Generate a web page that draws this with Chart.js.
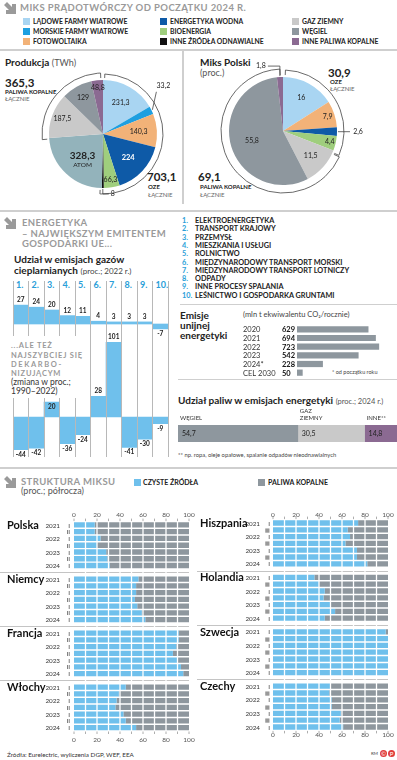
<!DOCTYPE html>
<html lang="pl">
<head>
<meta charset="utf-8">
<title>Miks prądotwórczy</title>
<script src="https://cdn.jsdelivr.net/npm/chart.js@4.4.1/dist/chart.umd.min.js"></script>
<style>
  html, body { margin: 0; padding: 0; background: #fff; }
  body { width: 397px; height: 760px; position: relative; overflow: hidden;
         font-family: Lato, "Noto Sans", sans-serif; color: #222; }
  .t { position: absolute; white-space: nowrap; line-height: 1; }
  .hd { color: #9a9a9a; font-weight: 700; letter-spacing: .4px; }
  .sw { position: absolute; width: 7px; height: 7px; }
  .hr { position: absolute; background: #cfcfcf; }
  .col { position: absolute; width: 1px; background: #b8b8b8; z-index: 2; }
  canvas { position: absolute; }
  svg.ar { position: absolute; width: 13px; height: 13px; }
</style>
</head>
<body>

<!-- MIKS PRĄDOTWÓRCZY -->
<svg class="ar" style="left:4px;top:2px" viewBox="0 0 13 13"><path d="M0 3 L3 0 L8 5 L8 2 L12 2 L12 12 L2 12 L2 8 L5 8 Z" fill="#9a9a9a"/></svg>
<div class="t hd" style="left:20px;top:3px;font-size:9.5px">MIKS PRĄDOTWÓRCZY OD POCZĄTKU 2024 R.</div>
<div id="legend"></div>
<div class="hr" style="left:0;top:49px;width:397px;height:2px"></div>
<div class="hr" style="left:182px;top:51px;width:1.5px;height:153px"></div>

<div class="t" style="left:5px;top:57px;font-size:10px"><b>Produkcja</b> <span style="color:#555;font-size:9px">(TWh)</span></div>
<div class="t" style="left:5px;top:77px;font-size:11.5px;font-weight:700">365,3</div>
<div class="t" style="left:5px;top:89px;font-size:6px;font-weight:700">PALIWA KOPALNE</div>
<div class="t" style="left:5px;top:96px;font-size:6px;color:#666">ŁĄCZNIE</div>
<div class="t" style="left:147px;top:171px;font-size:11.5px;font-weight:700">703,1</div>
<div class="t" style="left:148px;top:184px;font-size:6px;font-weight:700">OZE</div>
<div class="t" style="left:148px;top:192px;font-size:6px;color:#666">ŁĄCZNIE</div>

<div class="t" style="left:200px;top:57px;font-size:10px;font-weight:700">Miks Polski</div>
<div class="t" style="left:200px;top:68px;font-size:9px;color:#555">(proc.)</div>
<div class="t" style="left:328px;top:67px;font-size:11.5px;font-weight:700">30,9</div>
<div class="t" style="left:330px;top:79px;font-size:6px;font-weight:700">OZE</div>
<div class="t" style="left:330px;top:86px;font-size:6px;color:#666">ŁĄCZNIE</div>
<div class="t" style="left:198px;top:171px;font-size:11.5px;font-weight:700">69,1</div>
<div class="t" style="left:200px;top:184px;font-size:6px;font-weight:700">PALIWA KOPALNE</div>
<div class="t" style="left:200px;top:192px;font-size:6px;color:#666">ŁĄCZNIE</div>

<div class="hr" style="left:0;top:210px;width:397px;height:2px"></div>

<!-- ENERGETYKA -->
<svg class="ar" style="left:4px;top:217px" viewBox="0 0 13 13"><path d="M0 3 L3 0 L8 5 L8 2 L12 2 L12 12 L2 12 L2 8 L5 8 Z" fill="#9a9a9a"/></svg>
<div class="t hd" style="left:22px;top:218px;font-size:9.5px">ENERGETYKA</div>
<div class="t hd" style="left:22px;top:229px;font-size:9.5px">– NAJWIĘKSZYM EMITENTEM</div>
<div class="t hd" style="left:22px;top:239px;font-size:9.5px">GOSPODARKI UE...</div>
<div class="t" style="left:14px;top:254px;font-size:10px;font-weight:700">Udział w emisjach gazów</div>
<div class="t" style="left:14px;top:265px;font-size:10px"><b>cieplarnianych</b> <span style="font-size:8px;color:#444">(proc.; 2022 r.)</span></div>
<div id="colnums"></div>
<div id="collines"></div>
<div style="position:absolute;left:5px;top:336px;width:82px;height:62px;background:#fff;z-index:3"></div>
<div class="t" style="left:11px;top:342px;font-size:7.5px;font-weight:700;color:#9a9a9a;letter-spacing:.8px;z-index:4">...ALE TEŻ</div>
<div class="t" style="left:11px;top:352px;font-size:7.5px;font-weight:700;color:#9a9a9a;letter-spacing:.8px;z-index:4">NAJSZYBCIEJ SIĘ</div>
<div class="t" style="left:11px;top:361px;font-size:7.5px;font-weight:700;color:#9a9a9a;letter-spacing:1.6px;z-index:4">DEKARBO-</div>
<div class="t" style="left:11px;top:370px;font-size:7.5px;font-weight:700;color:#9a9a9a;letter-spacing:.8px;z-index:4">NIZUJĄCYM</div>
<div class="t" style="left:11px;top:378px;font-size:8.5px;color:#333;z-index:4">(zmiana w proc.;</div>
<div class="t" style="left:11px;top:387px;font-size:8.5px;color:#333;z-index:4">1990–2022)</div>

<div id="sectorlist"></div>
<div class="hr" style="left:180px;top:304px;width:217px;height:1px"></div>
<div class="t" style="left:180px;top:310px;font-size:10px;font-weight:700">Emisje</div>
<div class="t" style="left:180px;top:320px;font-size:10px;font-weight:700">unijnej</div>
<div class="t" style="left:180px;top:330px;font-size:10px;font-weight:700">energetyki</div>
<div class="t" style="left:243px;top:311px;font-size:7.5px;color:#444">(mln t ekwiwalentu CO₂/rocznie)</div>
<div class="t" style="left:332px;top:370px;font-size:5.5px;color:#444">* od początku roku</div>

<div class="hr" style="left:178px;top:379px;width:219px;height:1px"></div>
<div class="t" style="left:178px;top:395px;font-size:10px"><b>Udział paliw w emisjach energetyki</b> <span style="font-size:7.5px;color:#555">(proc.; 2024 r.)</span></div>
<div class="t" style="left:178px;top:452px;font-size:5.8px;color:#444">** np. ropa, oleje opałowe, spalanie odpadów nieodnawialnych</div>

<div class="hr" style="left:0;top:467px;width:397px;height:2px"></div>

<!-- STRUKTURA MIKSU -->
<svg class="ar" style="left:4px;top:476px" viewBox="0 0 13 13"><path d="M0 3 L3 0 L8 5 L8 2 L12 2 L12 12 L2 12 L2 8 L5 8 Z" fill="#9a9a9a"/></svg>
<div class="t hd" style="left:21px;top:477px;font-size:9.5px">STRUKTURA MIKSU</div>
<div class="t" style="left:21px;top:486px;font-size:9px;color:#555">(proc.; półrocza)</div>
<div class="sw" style="left:134px;top:479px;background:#6fc0ec"></div>
<div class="t" style="left:143px;top:479px;font-size:7px;font-weight:700">CZYSTE ŹRÓDŁA</div>
<div class="sw" style="left:258px;top:479px;background:#8e979e"></div>
<div class="t" style="left:268px;top:479px;font-size:7px;font-weight:700">PALIWA KOPALNE</div>

<div class="t" style="left:7px;top:752px;font-size:6.3px;color:#333">Źródła: Eurelectric, wyliczenia DGP, WEF, EEA</div>
<div class="t" style="left:371px;top:752px;font-size:4.5px;color:#444">RM</div>
<div class="t" style="left:380px;top:750px;font-size:6px;color:#fff;background:#e03a3a;border-radius:50%;width:7px;height:7px;text-align:center;line-height:7px">©</div>
<div class="t" style="left:388px;top:750px;font-size:6px;color:#fff;background:#e03a3a;border-radius:50%;width:7px;height:7px;text-align:center;line-height:7px">P</div>

<script>
// ---------- data ----------
const sources = ['LĄDOWE FARMY WIATROWE', 'MORSKIE FARMY WIATROWE', 'FOTOWOLTAIKA',
                 'ENERGETYKA WODNA', 'BIOENERGIA', 'INNE ŹRÓDŁA ODNAWIALNE',
                 'GAZ ZIEMNY', 'WĘGIEL', 'INNE PALIWA KOPALNE'];
const sourceColors = ['#a9d5f2', '#1e9fe0', '#f2b278', '#0e5aa7', '#9fce7d', '#111111',
                      '#c9c9c9', '#8e979e', '#8b6a92'];

const prodLabels = ['Lądowe farmy wiatrowe', 'Morskie farmy wiatrowe', 'Fotowoltaika', 'Energetyka wodna',
                    'Bioenergia', 'Inne źródła odnawialne', 'Atom', 'Gaz ziemny', 'Węgiel', 'Inne paliwa kopalne'];
const prodTWh = [231.3, 33.2, 140.3, 224, 66.3, 8, 328.3, 187.5, 129, 48.8];
const prodColors = ['#a9d5f2', '#1e9fe0', '#f2b278', '#0e5aa7', '#9fce7d', '#111111',
                    '#93b3bb', '#c9c9c9', '#8e979e', '#8b6a92'];

const plLabels = ['Lądowe farmy wiatrowe', 'Fotowoltaika', 'Energetyka wodna', 'Bioenergia',
                  'Gaz ziemny', 'Węgiel', 'Inne paliwa kopalne'];
const plShare = [16, 7.9, 2.6, 4.4, 11.5, 55.8, 1.8];
const plColors = ['#a9d5f2', '#f2b278', '#0e5aa7', '#9fce7d', '#c9c9c9', '#8e979e', '#8b6a92'];

const sectors = ['ELEKTROENERGETYKA', 'TRANSPORT KRAJOWY', 'PRZEMYSŁ', 'MIESZKANIA I USŁUGI',
                 'ROLNICTWO', 'MIĘDZYNARODOWY TRANSPORT MORSKI', 'MIĘDZYNARODOWY TRANSPORT LOTNICZY',
                 'ODPADY', 'INNE PROCESY SPALANIA', 'LEŚNICTWO I GOSPODARKA GRUNTAMI'];
const ghgShare2022 = [27, 24, 20, 12, 11, 4, 3, 3, 3, -7];
const ghgChange = [-44, -42, 20, -36, -24, 28, 101, -41, -30, -9];

const emisYears = ['2020', '2021', '2022', '2023', '2024*', 'CEL 2030'];
const emisMt = [629, 694, 723, 542, 228, 50];

const fuels = ['WĘGIEL', 'GAZ ZIEMNY', 'INNE**'];
const fuelShare = [54.7, 30.5, 14.8];
const fuelColors = ['#8e979e', '#c9c9c9', '#8b6a92'];

const halfYears = ['2021 I', '2021 II', '2022 I', '2022 II', '2023 I', '2023 II', '2024 I'];
const mixTicks = [0, 20, 40, 60, 80, 100];
const countriesLeft = ['Polska', 'Niemcy', 'Francja', 'Włochy'];
const countriesRight = ['Hiszpania', 'Holandia', 'Szwecja', 'Czechy'];
const cleanPolska = [18, 18, 23, 20, 28, 29, 31];
const cleanNiemcy = [56, 54, 54, 53, 55, 59, 62];
const cleanFrancja = [91, 91, 89, 86, 90, 93, 95];
const cleanWlochy = [45, 39, 37, 36, 43, 45, 54];
const cleanHiszpania = [74, 65, 67, 63, 73, 73, 82];
const cleanHolandia = [36, 40, 45, 44, 50, 54, 45];
const cleanSzwecja = [98, 100, 100, 100, 100, 100, 100];
const cleanCzechy = [50, 49, 51, 51, 59, 58, 61];

// ---------- setup ----------
const FONT = 'Lato, "Noto Sans", sans-serif';
Chart.defaults.font.family = FONT;
Chart.defaults.animation = false;
Chart.defaults.events = [];
Chart.defaults.plugins.legend.display = false;
Chart.defaults.plugins.tooltip.enabled = false;

const fmt = v => String(v).replace('.', ',');
const BLUE = '#6fc0ec';
const NUMBLUE = '#2a9ed8';

function makeCanvas(x, y, w, h) {
  const c = document.createElement('canvas');
  c.width = w; c.height = h;
  c.style.left = x + 'px'; c.style.top = y + 'px';
  c.style.width = w + 'px'; c.style.height = h + 'px';
  document.body.appendChild(c);
  return c.getContext('2d');
}

function addText(parent, x, y, txt, style) {
  const d = document.createElement('div');
  d.className = 't';
  d.style.left = x + 'px'; d.style.top = y + 'px';
  Object.assign(d.style, style || {});
  d.textContent = txt;
  parent.appendChild(d);
}

// legend of the top section
const legendBox = document.getElementById('legend');
const legendCols = [23, 160, 292], legendRows = [17, 27, 37];
sources.forEach((s, i) => {
  const x = legendCols[Math.floor(i / 3)], y = legendRows[i % 3];
  const sw = document.createElement('div');
  sw.className = 'sw';
  sw.style.left = x + 'px'; sw.style.top = (y + 0.5) + 'px';
  sw.style.background = sourceColors[i];
  legendBox.appendChild(sw);
  addText(legendBox, x + 10, y + 0.5, s, { fontSize: '6.8px', fontWeight: 700 });
});

// ---------- pies ----------
const pieDecor = {
  id: 'pieDecor',
  afterDatasetsDraw(chart, args, o) {
    const ctx = chart.ctx;
    const arcs = chart.getDatasetMeta(0).data;
    const vals = chart.data.datasets[0].data;
    const cx = arcs[0].x, cy = arcs[0].y, r0 = arcs[0].outerRadius;
    ctx.save();
    ctx.strokeStyle = '#444';
    ctx.lineWidth = 0.8;
    o.brackets.forEach(b => {
      const a0 = arcs[b.from].startAngle + b.pad0;
      const a1 = arcs[b.to].endAngle - b.pad1;
      const R = r0 + b.gap;
      ctx.beginPath();
      ctx.moveTo(cx + Math.cos(a0) * (r0 + 2), cy + Math.sin(a0) * (r0 + 2));
      ctx.arc(cx, cy, R, a0, a1);
      ctx.lineTo(cx + Math.cos(a1) * (r0 + 2), cy + Math.sin(a1) * (r0 + 2));
      ctx.stroke();
    });
    ctx.textAlign = 'center';
    ctx.textBaseline = 'middle';
    arcs.forEach((arc, i) => {
      const s = o.spots[i] || {};
      const mid = (arc.startAngle + arc.endAngle) / 2;
      let x, y;
      if (s.lead) {
        const ex = cx + Math.cos(mid) * (r0 + 1), ey = cy + Math.sin(mid) * (r0 + 1);
        ctx.beginPath();
        ctx.moveTo(ex, ey);
        s.lead.forEach(p => ctx.lineTo(ex + p[0], ey + p[1]));
        ctx.stroke();
        x = ex + s.at[0]; y = ey + s.at[1];
      } else {
        const r = r0 * (s.r || 0.65);
        x = cx + Math.cos(mid) * r; y = cy + Math.sin(mid) * r;
      }
      ctx.fillStyle = s.color || '#222';
      ctx.font = s.font || '7px ' + FONT;
      ctx.fillText(fmt(vals[i]), x, y);
      if (s.sub) {
        ctx.font = '6.5px ' + FONT;
        ctx.fillText(s.sub, x, y + 9);
      }
    });
    ctx.restore();
  }
};

function pieChart(ctx, labels, values, colors, pad, decor) {
  return new Chart(ctx, {
    type: 'pie',
    data: { labels: labels, datasets: [{ data: values, backgroundColor: colors, borderWidth: 0 }] },
    options: {
      responsive: false,
      layout: { padding: pad },
      plugins: { pieDecor: decor }
    },
    plugins: [pieDecor]
  });
}

pieChart(makeCanvas(28, 59, 150, 150), prodLabels, prodTWh, prodColors, 21, {
  brackets: [
    { from: 0, to: 5, pad0: 0.03, pad1: -0.03, gap: 6 },
    { from: 7, to: 9, pad0: -0.02, pad1: 0.04, gap: 7 }
  ],
  spots: [
    { r: 0.66 },
    { lead: [[4, -18]], at: [11, -24] },
    { r: 0.66 },
    { r: 0.64, color: '#fff', font: 'bold 7.5px ' + FONT },
    { r: 0.85 },
    { lead: [[0, 5], [6, 5]], at: [10, 5] },
    { r: 0.55, font: 'bold 10px ' + FONT, sub: 'ATOM' },
    { r: 0.8 },
    { r: 0.76 },
    { r: 0.87 }
  ]
});

pieChart(makeCanvas(208, 56, 170, 150), plLabels, plShare, plColors,
  { left: 21, right: 41, top: 21, bottom: 21 }, {
  brackets: [
    { from: 0, to: 3, pad0: 0.04, pad1: -0.04, gap: 7 },
    { from: 4, to: 6, pad0: 0.06, pad1: 0.05, gap: 8 }
  ],
  spots: [
    { r: 0.7 },
    { r: 0.87 },
    { lead: [[12, 0]], at: [20, 0] },
    { r: 0.89 },
    { r: 0.69 },
    { r: 0.6 },
    { lead: [[0, -10], [-12, -10]], at: [-19, -10] }
  ]
});

// ---------- sector columns ----------
const colLeft = 13, colW = 15.5;
const colLines = document.getElementById('collines');
for (let k = 0; k <= sectors.length; k++) {
  const d = document.createElement('div');
  d.className = 'col';
  d.style.left = (colLeft + k * colW - 0.5) + 'px';
  d.style.top = '281px';
  d.style.height = '176px';
  colLines.appendChild(d);
}
const colNums = document.getElementById('colnums');
sectors.forEach((s, i) => {
  addText(colNums, colLeft + i * colW + 3, 280, (i + 1) + '.',
    { fontSize: '9px', fontWeight: 700, color: NUMBLUE });
});
const list = document.getElementById('sectorlist');
sectors.forEach((s, i) => {
  const y = 217 + i * 8.3;
  addText(list, 182, y, (i + 1) + '.', { fontSize: '7.3px', fontWeight: 700, color: NUMBLUE });
  addText(list, 195, y, s, { fontSize: '7.3px', fontWeight: 700, color: '#222' });
});

const colLabels = {
  id: 'colLabels',
  afterDatasetsDraw(chart, args, o) {
    const ctx = chart.ctx;
    const bars = chart.getDatasetMeta(0).data;
    const vals = chart.data.datasets[0].data;
    ctx.save();
    ctx.font = 'bold 6.5px ' + FONT;
    ctx.fillStyle = '#222';
    ctx.textAlign = 'center';
    ctx.textBaseline = 'middle';
    bars.forEach((b, i) => {
      const v = vals[i];
      let y;
      if (v >= 0) y = (o.inside || []).includes(i) ? b.y + 4.5 : b.y - 5;
      else y = b.y + 5;
      ctx.fillText(String(v), b.x, y);
    });
    ctx.restore();
  }
};

function columnChart(ctx, values, min, max, pad, opts) {
  return new Chart(ctx, {
    type: 'bar',
    data: { labels: sectors, datasets: [{ data: values, backgroundColor: BLUE,
            barPercentage: 1, categoryPercentage: 1, borderWidth: 0 }] },
    options: {
      responsive: false,
      layout: { padding: pad },
      scales: { x: { display: false }, y: { display: false, min: min, max: max } },
      plugins: { colLabels: opts }
    },
    plugins: [colLabels]
  });
}

columnChart(makeCanvas(colLeft, 290, colW * 10, 50), ghgShare2022, -10, 30,
  { top: 13, bottom: 9, left: 0, right: 0 }, {});
columnChart(makeCanvas(colLeft, 330, colW * 10, 130), ghgChange, -50, 105,
  { top: 9.3, bottom: 6, left: 0, right: 0 }, { inside: [2] });

// ---------- EU power emissions ----------
const emisDecor = {
  id: 'emisDecor',
  afterDatasetsDraw(chart) {
    const ctx = chart.ctx;
    const bars = chart.getDatasetMeta(0).data;
    const vals = chart.data.datasets[0].data;
    ctx.save();
    ctx.textBaseline = 'middle';
    ctx.textAlign = 'left';
    bars.forEach((b, i) => {
      ctx.font = '7.5px ' + FONT;
      ctx.fillStyle = '#333';
      ctx.fillText(chart.data.labels[i], 3, b.y + 0.5);
      ctx.font = 'bold 7.5px ' + FONT;
      ctx.fillStyle = '#111';
      ctx.fillText(String(vals[i]), 42, b.y + 0.5);
    });
    ctx.restore();
  }
};
new Chart(makeCanvas(240, 325, 157, 52), {
  type: 'bar',
  data: { labels: emisYears, datasets: [{ data: emisMt, backgroundColor: '#8e979e',
          barPercentage: 0.72, categoryPercentage: 1, borderWidth: 0 }] },
  options: {
    indexAxis: 'y',
    responsive: false,
    layout: { padding: { left: 57, right: 0, top: 0, bottom: 0 } },
    scales: { x: { display: false, min: 0, max: 880 }, y: { display: false } }
  },
  plugins: [emisDecor]
});

// ---------- fuels in power emissions ----------
const fuelDecor = {
  id: 'fuelDecor',
  afterDatasetsDraw(chart) {
    const ctx = chart.ctx;
    const top = chart.chartArea.top;
    ctx.save();
    ctx.textAlign = 'left';
    chart.data.datasets.forEach((ds, i) => {
      const el = chart.getDatasetMeta(i).data[0];
      const x0 = Math.min(el.base, el.x);
      const parts = ds.label.split(' ');
      ctx.font = '6px ' + FONT;
      ctx.fillStyle = '#333';
      ctx.textBaseline = 'alphabetic';
      parts.slice().reverse().forEach((p, k) => ctx.fillText(p, x0 + 2, top - 5 - k * 7.5));
      ctx.font = '7px ' + FONT;
      ctx.fillStyle = '#222';
      ctx.textBaseline = 'middle';
      ctx.fillText(fmt(ds.data[0]), x0 + 4, el.y + 0.5);
    });
    ctx.restore();
  }
};
new Chart(makeCanvas(178, 405, 219, 40), {
  type: 'bar',
  data: {
    labels: ['2024'],
    datasets: fuels.map((f, i) => ({ label: f, data: [fuelShare[i]], backgroundColor: fuelColors[i],
      barPercentage: 1, categoryPercentage: 1, borderWidth: 0 }))
  },
  options: {
    indexAxis: 'y',
    responsive: false,
    layout: { padding: { left: 0, right: 0, top: 20, bottom: 3 } },
    scales: { x: { display: false, stacked: true, min: 0, max: 100 }, y: { display: false, stacked: true } }
  },
  plugins: [fuelDecor]
});

// ---------- mix structure ----------
const mixDecor = {
  id: 'mixDecor',
  beforeDatasetsDraw(chart, args, o) {
    const ctx = chart.ctx, ys = chart.scales.y, ca = chart.chartArea;
    ctx.save();
    ctx.strokeStyle = '#c4c4c4';
    ctx.lineWidth = 1;
    o.rows.forEach((r, i) => {
      if (r.gap) {
        const y = Math.round(ys.getPixelForValue(i)) + 0.5;
        ctx.beginPath(); ctx.moveTo(0, y); ctx.lineTo(ca.right, y); ctx.stroke();
      }
    });
    ctx.restore();
  },
  afterDatasetsDraw(chart, args, o) {
    const ctx = chart.ctx, xs = chart.scales.x, ys = chart.scales.y, ca = chart.chartArea;
    ctx.save();
    // white grid over the bars
    ctx.strokeStyle = '#fff';
    ctx.lineWidth = 1.3;
    for (let v = 10; v < 100; v += 10) {
      const x = xs.getPixelForValue(v);
      ctx.beginPath(); ctx.moveTo(x, ca.top); ctx.lineTo(x, ca.bottom); ctx.stroke();
    }
    // tick marks and labels at top and bottom
    ctx.strokeStyle = '#999';
    ctx.lineWidth = 0.8;
    for (let v = 0; v <= 100; v += 10) {
      const x = xs.getPixelForValue(v);
      ctx.beginPath(); ctx.moveTo(x, ca.top - 3); ctx.lineTo(x, ca.top - 0.5); ctx.stroke();
      ctx.beginPath(); ctx.moveTo(x, ca.bottom + 0.5); ctx.lineTo(x, ca.bottom + 3); ctx.stroke();
    }
    ctx.font = '6.5px ' + FONT;
    ctx.fillStyle = '#555';
    ctx.textAlign = 'center';
    ctx.textBaseline = 'middle';
    mixTicks.forEach(v => {
      const x = xs.getPixelForValue(v);
      ctx.fillText(String(v), x, ca.top - o.topGap);
      ctx.fillText(String(v), x, ca.bottom + o.bottomGap);
    });
    // row labels and country names
    o.rows.forEach((r, i) => {
      if (r.gap) return;
      const y = ys.getPixelForValue(i) + 0.5;
      ctx.font = '6.3px ' + FONT;
      ctx.fillStyle = '#333';
      ctx.textAlign = 'right';
      if (r.half === 'I') ctx.fillText(r.year, ca.left - o.yearOff, y);
      if (r.half === 'II' && o.squareHalf) {
        ctx.fillStyle = '#999';
        ctx.font = '5.5px "DejaVu Sans", sans-serif';
        ctx.fillText('■', ca.left - o.romanOff, y);
      } else {
        ctx.fillText(r.half, ca.left - o.romanOff, y);
      }
      if (r.first) {
        ctx.font = 'bold 11px ' + FONT;
        ctx.fillStyle = '#111';
        ctx.textAlign = 'left';
        ctx.fillText(r.country, o.nameX, y);
      }
    });
    ctx.restore();
  }
};

function mixChart(ctx, countries, cleanSets, pad, decor) {
  const rows = [], clean = [], fossil = [], labels = [];
  countries.forEach((c, ci) => {
    if (ci > 0) { rows.push({ gap: true }); clean.push(null); fossil.push(null); labels.push(''); }
    halfYears.forEach((hy, k) => {
      const [year, half] = hy.split(' ');
      rows.push({ country: c, year: year, half: half, first: k === 0 });
      clean.push(cleanSets[ci][k]);
      fossil.push(100 - cleanSets[ci][k]);
      labels.push(c + ' ' + hy);
    });
  });
  decor.rows = rows;
  return new Chart(ctx, {
    type: 'bar',
    data: {
      labels: labels,
      datasets: [
        { label: 'CZYSTE ŹRÓDŁA', data: clean, backgroundColor: BLUE,
          barPercentage: 0.78, categoryPercentage: 1, borderWidth: 0 },
        { label: 'PALIWA KOPALNE', data: fossil, backgroundColor: '#8e979e',
          barPercentage: 0.78, categoryPercentage: 1, borderWidth: 0 }
      ]
    },
    options: {
      indexAxis: 'y',
      responsive: false,
      layout: { padding: pad },
      scales: {
        x: { display: false, stacked: true, min: 0, max: 100 },
        y: { display: false, stacked: true }
      },
      plugins: { mixDecor: decor }
    },
    plugins: [mixDecor]
  });
}

mixChart(makeCanvas(0, 505, 197, 245), countriesLeft,
  [cleanPolska, cleanNiemcy, cleanFrancja, cleanWlochy],
  { left: 74, right: 8, top: 16.6, bottom: 19 },
  { topGap: 7, bottomGap: 9, yearOff: 14, romanOff: 4, nameX: 7, squareHalf: false });

mixChart(makeCanvas(197, 505, 200, 245), countriesRight,
  [cleanHiszpania, cleanHolandia, cleanSzwecja, cleanCzechy],
  { left: 76, right: 9, top: 14.6, bottom: 19.6 },
  { topGap: 5, bottomGap: 4.5, yearOff: 13, romanOff: 3, nameX: 3, squareHalf: true });
</script>
</body>
</html>
